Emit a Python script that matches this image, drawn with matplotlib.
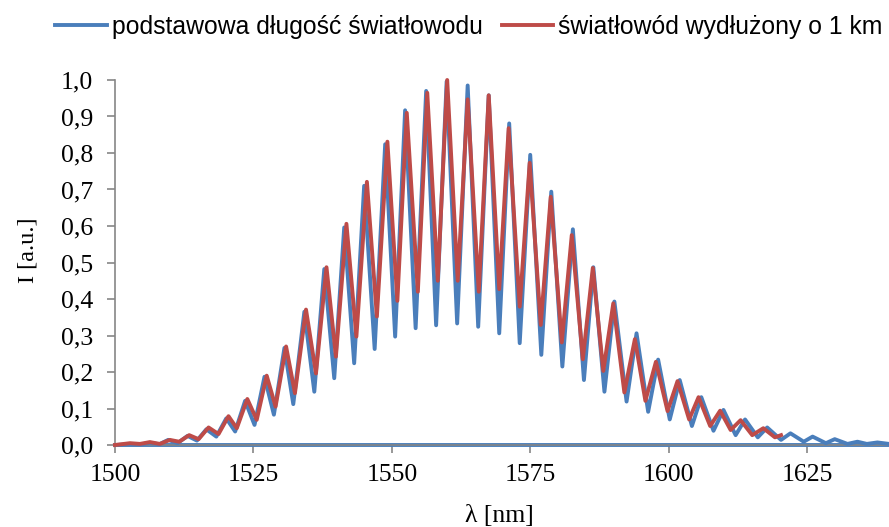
import matplotlib
matplotlib.use("Agg")
import matplotlib.pyplot as plt

# ---- data ----
blue_wl = [1500.0, 1502.7, 1504.5, 1506.3, 1508.0, 1509.6, 1511.3, 1513.1, 1514.8, 1516.5,
           1518.3, 1520.1, 1521.7, 1523.5, 1525.2, 1527.0, 1528.7, 1530.6, 1532.2, 1534.2,
           1536.0, 1537.8, 1539.6, 1541.4, 1543.2, 1545.0, 1546.9, 1548.8, 1550.6, 1552.4,
           1554.3, 1556.2, 1558.0, 1559.9, 1561.8, 1563.7, 1565.6, 1567.5, 1569.4, 1571.2,
           1573.1, 1575.0, 1577.0, 1578.8, 1580.8, 1582.7, 1584.7, 1586.4, 1588.4, 1590.2,
           1592.4, 1594.2, 1596.3, 1598.1, 1600.2, 1602.0, 1604.2, 1605.9, 1608.1, 1609.9,
           1612.1, 1613.8, 1616.1, 1617.8, 1620.3, 1622.0, 1624.4, 1626.0, 1628.4, 1630.0,
           1632.3, 1634.1, 1635.8, 1637.7, 1639.8]
blue_I = [0.000, 0.002, 0.001, 0.006, 0.002, 0.014, 0.005, 0.025, 0.012, 0.043,
          0.023, 0.073, 0.037, 0.121, 0.055, 0.187, 0.083, 0.266, 0.112, 0.365,
          0.146, 0.482, 0.183, 0.596, 0.224, 0.710, 0.263, 0.824, 0.297, 0.917,
          0.320, 0.970, 0.328, 0.996, 0.333, 0.985, 0.324, 0.958, 0.306, 0.881,
          0.279, 0.795, 0.247, 0.694, 0.215, 0.591, 0.178, 0.487, 0.146, 0.393,
          0.119, 0.306, 0.091, 0.234, 0.070, 0.178, 0.052, 0.131, 0.039, 0.096,
          0.027, 0.070, 0.021, 0.048, 0.014, 0.032, 0.009, 0.023, 0.005, 0.016,
          0.003, 0.009, 0.003, 0.007, 0.003]

red_wl = [1500.0, 1502.7, 1504.5, 1506.3, 1508.1, 1509.9, 1511.6, 1513.4, 1515.1, 1516.9,
          1518.7, 1520.5, 1522.0, 1523.9, 1525.6, 1527.4, 1529.0, 1530.9, 1532.5, 1534.5,
          1536.3, 1538.2, 1539.9, 1541.8, 1543.6, 1545.5, 1547.3, 1549.2, 1551.0, 1552.7,
          1554.7, 1556.4, 1558.3, 1560.0, 1561.9, 1563.7, 1565.7, 1567.5, 1569.4, 1571.1,
          1573.1, 1574.9, 1576.9, 1578.7, 1580.7, 1582.5, 1584.5, 1586.3, 1588.2, 1590.0,
          1592.0, 1593.9, 1595.8, 1597.7, 1599.8, 1601.6, 1603.7, 1605.4, 1607.5, 1609.3,
          1611.2, 1613.0, 1615.1, 1617.1, 1619.2, 1620.3]
red_I = [0.000, 0.005, 0.003, 0.008, 0.003, 0.014, 0.009, 0.027, 0.016, 0.048,
         0.030, 0.079, 0.046, 0.126, 0.069, 0.190, 0.105, 0.270, 0.142, 0.371,
         0.196, 0.487, 0.242, 0.606, 0.297, 0.721, 0.352, 0.831, 0.395, 0.910,
         0.420, 0.965, 0.450, 1.000, 0.450, 0.947, 0.420, 0.958, 0.427, 0.868,
         0.379, 0.773, 0.329, 0.680, 0.281, 0.575, 0.235, 0.485, 0.203, 0.388,
         0.144, 0.290, 0.121, 0.228, 0.093, 0.175, 0.070, 0.131, 0.052, 0.094,
         0.041, 0.068, 0.027, 0.046, 0.021, 0.027]

zero_wl = [1500.0, 1639.8]
zero_I = [0.0, 0.0]

x_ticks = [1500, 1525, 1550, 1575, 1600, 1625]
y_ticks = [0.0, 0.1, 0.2, 0.3, 0.4, 0.5, 0.6, 0.7, 0.8, 0.9, 1.0]
y_labels = ["0,0", "0,1", "0,2", "0,3", "0,4", "0,5", "0,6", "0,7", "0,8", "0,9", "1,0"]

labels = ["podstawowa długość światłowodu", "światłowód wydłużony o 1 km"]

# ---- styling ----
BLUE = "#4A7EBB"
RED = "#BE4B48"
GRAY = "#868686"
serif = ["Liberation Serif", "DejaVu Serif"]
sans = ["Liberation Sans", "DejaVu Sans"]

fig = plt.figure(figsize=(8.89, 5.27), dpi=100)
ax = fig.add_axes([115 / 889, 1 - 445 / 527, (889 - 115) / 889, (445 - 80) / 527])

lw = 2.8
ax.plot(zero_wl, zero_I, color=BLUE, lw=lw, solid_capstyle="butt", zorder=2)
lb, = ax.plot(blue_wl, blue_I, color=BLUE, lw=lw, solid_joinstyle="round", zorder=3)
lr, = ax.plot(red_wl, red_I, color=RED, lw=lw, solid_joinstyle="round", zorder=4)

ax.set_xlim(1500, 1639.8)
ax.set_ylim(0, 1.0)
ax.set_xticks(x_ticks)
ax.set_xticklabels([str(t) for t in x_ticks])
ax.set_yticks(y_ticks)
ax.set_yticklabels(y_labels)

for s in ["top", "right"]:
    ax.spines[s].set_visible(False)
for s in ["left", "bottom"]:
    ax.spines[s].set_color(GRAY)
    ax.spines[s].set_linewidth(1.2)
ax.tick_params(axis="both", direction="out", length=6, width=1.2, color=GRAY,
               labelsize=18.5, labelcolor="black")
ax.tick_params(axis="y", pad=10)
ax.tick_params(axis="x", pad=8)
for t in ax.get_xticklabels() + ax.get_yticklabels():
    t.set_family(serif)
ax.patch.set_alpha(0)
for l in ax.get_lines():
    l.set_clip_on(False)

fig.text(28 / 889, 1 - 250 / 527, "I [a.u.]", rotation=90, ha="center", va="center",
         fontsize=17.5, family=serif)
fig.text(499 / 889, 1 - 516 / 527, "λ [nm]", ha="center", va="center",
         fontsize=18.5, family=serif)

fig.legend([lb, lr], labels, loc="center", bbox_to_anchor=(469 / 889, 1 - 27 / 527),
           ncol=2, frameon=False, prop={"family": sans, "size": 17.8},
           handlelength=2.1, handletextpad=0.2, columnspacing=0.75, borderaxespad=0,
           borderpad=0.1)

fig.savefig("out.png", dpi=100)
